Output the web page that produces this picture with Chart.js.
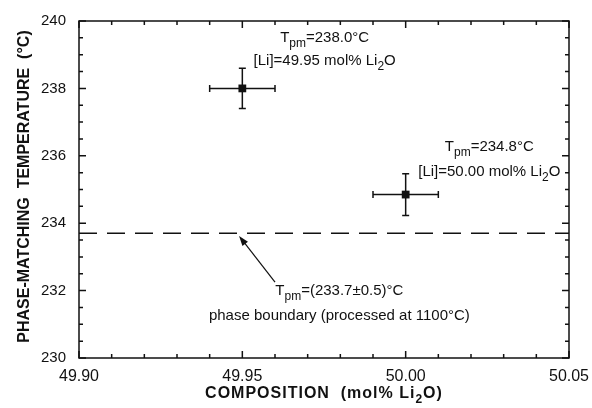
<!DOCTYPE html>
<html>
<head>
<meta charset="utf-8">
<script src="https://cdn.jsdelivr.net/npm/chart.js@4"></script>
<style>
  html, body { margin: 0; padding: 0; background: #fff; }
  #wrap { width: 592px; height: 408px; }
</style>
</head>
<body>
<div id="wrap"><canvas id="grafico"></canvas></div>
<script>
// datos
const composiciones = [49.95, 50.00];        // mol% Li2O
const temperaturas = [238.0, 234.85];        // °C
const errorComp = [0.01, 0.01];
const errorTemp = [0.6, 0.62];
const limiteFase = 233.7;                    // linea de frontera de fase
const ticksX = [49.90, 49.95, 50.00, 50.05];
const ticksY = [230, 232, 234, 236, 238, 240];
const menoresX = [49.91, 49.92, 49.93, 49.94, 49.96, 49.97, 49.98, 49.99, 50.01, 50.02, 50.03, 50.04];
const menoresY = [230.5, 231, 231.5, 232.5, 233, 233.5, 234.5, 235, 235.5, 236.5, 237, 237.5, 238.5, 239, 239.5];

const FUENTE = '"Liberation Sans", Arial, Helvetica, sans-serif';
const NEGRO = '#111';

// dibuja texto con subindices: partes = [[texto, esSub], ...]
function textoRico(ctx, partes, cx, y, size, bold, espacio) {
  const peso = bold ? 'bold ' : '';
  const subSize = Math.round(size * 0.78);
  ctx.letterSpacing = (espacio || 0) + 'px';
  let ancho = 0;
  partes.forEach(p => {
    ctx.font = peso + (p[1] ? subSize : size) + 'px ' + FUENTE;
    ancho += ctx.measureText(p[0]).width;
  });
  let x = cx - ancho / 2;
  ctx.textAlign = 'left';
  ctx.textBaseline = 'alphabetic';
  partes.forEach(p => {
    ctx.font = peso + (p[1] ? subSize : size) + 'px ' + FUENTE;
    ctx.fillText(p[0], x, p[1] ? y + size * 0.33 : y);
    x += ctx.measureText(p[0]).width;
  });
  ctx.letterSpacing = '0px';
}

const notas = [
  { x: 49.9752, y: 239.37, partes: [['T', false], ['pm', true], ['=238.0°C', false]] },
  { x: 49.9752, y: 238.69, partes: [['[Li]=49.95 mol% Li', false], ['2', true], ['O', false]] },
  { x: 50.0256, y: 236.15, partes: [['T', false], ['pm', true], ['=234.8°C', false]] },
  { x: 50.0256, y: 235.40, partes: [['[Li]=50.00 mol% Li', false], ['2', true], ['O', false]] },
  { x: 49.9797, y: 231.88, partes: [['T', false], ['pm', true], ['=(233.7±0.5)°C', false]] },
  { x: 49.9797, y: 231.13, partes: [['phase boundary (processed at 1100°C)', false]] }
];

const barrasError = {
  id: 'barrasError',
  beforeDatasetsDraw(chart) {
    const { ctx, scales: { x, y } } = chart;
    ctx.save();
    ctx.strokeStyle = NEGRO;
    ctx.lineWidth = 1.5;
    composiciones.forEach((c, i) => {
      const px = x.getPixelForValue(c);
      const py = y.getPixelForValue(temperaturas[i]);
      const x1 = x.getPixelForValue(c - errorComp[i]);
      const x2 = x.getPixelForValue(c + errorComp[i]);
      const y1 = y.getPixelForValue(temperaturas[i] + errorTemp[i]);
      const y2 = y.getPixelForValue(temperaturas[i] - errorTemp[i]);
      ctx.beginPath();
      ctx.moveTo(x1, py); ctx.lineTo(x2, py);
      ctx.moveTo(x1, py - 3.5); ctx.lineTo(x1, py + 3.5);
      ctx.moveTo(x2, py - 3.5); ctx.lineTo(x2, py + 3.5);
      ctx.moveTo(px, y1); ctx.lineTo(px, y2);
      ctx.moveTo(px - 3.5, y1); ctx.lineTo(px + 3.5, y1);
      ctx.moveTo(px - 3.5, y2); ctx.lineTo(px + 3.5, y2);
      ctx.stroke();
    });
    ctx.restore();
  }
};

const marco = {
  id: 'marco',
  afterDraw(chart) {
    const { ctx, chartArea: a, scales: { x, y } } = chart;
    ctx.save();
    ctx.strokeStyle = NEGRO;
    ctx.fillStyle = NEGRO;
    ctx.lineWidth = 1.5;
    ctx.strokeRect(a.left, a.top, a.right - a.left, a.bottom - a.top);
    ctx.beginPath();
    const tickX = (v, l) => {
      const p = x.getPixelForValue(v);
      ctx.moveTo(p, a.bottom); ctx.lineTo(p, a.bottom - l);
      ctx.moveTo(p, a.top); ctx.lineTo(p, a.top + l);
    };
    const tickY = (v, l) => {
      const p = y.getPixelForValue(v);
      ctx.moveTo(a.left, p); ctx.lineTo(a.left + l, p);
      ctx.moveTo(a.right, p); ctx.lineTo(a.right - l, p);
    };
    ticksX.forEach(v => tickX(v, 7));
    menoresX.forEach(v => tickX(v, 4));
    ticksY.forEach(v => tickY(v, 7));
    menoresY.forEach(v => tickY(v, 4));
    ctx.stroke();

    // flecha hacia la frontera de fase
    const hx = x.getPixelForValue(49.949), hy = y.getPixelForValue(233.62);
    const tx = x.getPixelForValue(49.960), ty = y.getPixelForValue(232.25);
    const ang = Math.atan2(hy - ty, hx - tx);
    ctx.lineWidth = 1.2;
    ctx.beginPath();
    ctx.moveTo(tx, ty); ctx.lineTo(hx - 6 * Math.cos(ang), hy - 6 * Math.sin(ang));
    ctx.stroke();
    ctx.beginPath();
    ctx.moveTo(hx, hy);
    ctx.lineTo(hx - 10 * Math.cos(ang) + 3.5 * Math.sin(ang), hy - 10 * Math.sin(ang) - 3.5 * Math.cos(ang));
    ctx.lineTo(hx - 10 * Math.cos(ang) - 3.5 * Math.sin(ang), hy - 10 * Math.sin(ang) + 3.5 * Math.cos(ang));
    ctx.closePath();
    ctx.fill();

    // anotaciones
    notas.forEach(n => {
      textoRico(ctx, n.partes, x.getPixelForValue(n.x), y.getPixelForValue(n.y), 15, false);
    });

    // titulos de ejes
    textoRico(ctx, [['COMPOSITION  (mol% Li', false], ['2', true], ['O)', false]], (a.left + a.right) / 2, 398, 16, true, 1);
    ctx.translate(29, (a.top + a.bottom) / 2 - 3);
    ctx.rotate(-Math.PI / 2);
    textoRico(ctx, [['PHASE-MATCHING  TEMPERATURE  (°C)', false]], 0, 0, 16, true);
    ctx.restore();
  }
};

new Chart(document.getElementById('grafico'), {
  type: 'scatter',
  data: {
    datasets: [
      {
        label: 'Tpm',
        data: composiciones.map((c, i) => ({ x: c, y: temperaturas[i] })),
        pointStyle: 'rect',
        pointRadius: 5.5,
        backgroundColor: NEGRO,
        borderColor: NEGRO,
        borderWidth: 0
      },
      {
        label: 'frontera',
        type: 'line',
        data: [{ x: 49.90, y: limiteFase }, { x: 50.05, y: limiteFase }],
        borderColor: NEGRO,
        borderWidth: 1.6,
        borderDash: [18, 10],
        pointRadius: 0,
        fill: false
      }
    ]
  },
  plugins: [barrasError, marco],
  options: {
    responsive: true,
    maintainAspectRatio: false,
    animation: false,
    layout: { padding: { top: 21, right: 23, left: 0, bottom: 0 } },
    plugins: { legend: { display: false }, tooltip: { enabled: false } },
    scales: {
      x: {
        type: 'linear',
        min: 49.90,
        max: 50.05,
        afterBuildTicks: s => { s.ticks = ticksX.map(v => ({ value: v })); },
        afterFit: s => { s.height = 50; s.paddingLeft = 0; s.paddingRight = 0; },
        grid: { display: false, drawTicks: false },
        border: { display: false },
        ticks: {
          padding: 9,
          color: NEGRO,
          font: { family: FUENTE, size: 16 },
          callback: v => Number(v).toFixed(2)
        }
      },
      y: {
        type: 'linear',
        min: 230,
        max: 240,
        afterBuildTicks: s => { s.ticks = ticksY.map(v => ({ value: v })); },
        afterFit: s => { s.width = 79; s.paddingTop = 0; s.paddingBottom = 0; },
        grid: { display: false, drawTicks: false },
        border: { display: false },
        ticks: {
          padding: 13,
          color: NEGRO,
          font: { family: FUENTE, size: 15 },
          callback: v => String(v)
        }
      }
    }
  }
});
</script>
</body>
</html>
